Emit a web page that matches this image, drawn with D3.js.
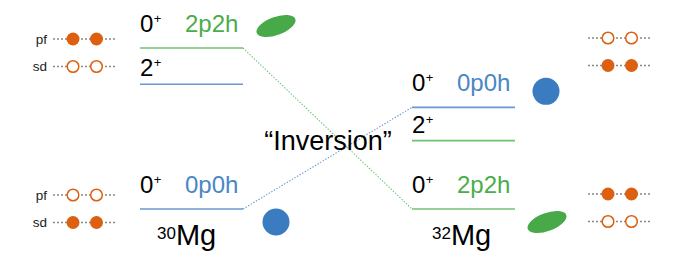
<!DOCTYPE html>
<html>
<head>
<meta charset="utf-8">
<script src="https://cdn.jsdelivr.net/npm/d3@7"></script>
<style>
  body { margin: 0; background: #fff; }
  svg { display: block; font-family: "Liberation Sans", Arial, sans-serif; }
</style>
</head>
<body>
<svg id="chart" width="679" height="260"></svg>
<script>
// Data
const nuclei = ["30Mg", "32Mg"];
const massNumbers = [30, 32];
// levels per nucleus, energy in diagram units (ground state = 0)
const levelNucleus = ["30Mg", "30Mg", "30Mg", "32Mg", "32Mg", "32Mg"];
const levelSpin = ["0", "2", "0", "0", "2", "0"];
const levelConfig = ["0p0h", "0p0h", "2p2h", "2p2h", "2p2h", "0p0h"];
const levelEnergy = [0, 1.24, 1.6, 0, 0.68, 1.01];
const shells = ["pf", "sd"];
// which shell holds the pair in each configuration
const occupied = { "0p0h": "sd", "2p2h": "pf" };
const pairSlots = [0, 1];

// Globals
const width = 679, height = 260;
const svg = d3.select("#chart");
const colors = {
  "0p0h": { text: "#4a86c6", line: "#6a98cf", shape: "#3a7cbf" },
  "2p2h": { text: "#4aad4a", line: "#72c172", shape: "#47a947" }
};
const orange = "#dc6010";

const x = d3.scaleOrdinal().domain(nuclei).range([140, 412]);
const lineLen = 103;
const y = d3.scaleLinear().domain([0, 1.6]).range([209, 48]);

const levels = levelEnergy.map((e, i) => ({
  nucleus: levelNucleus[i], spin: levelSpin[i], config: levelConfig[i], energy: e
}));

// dotted connectors between the two 0+ states of same config
["2p2h", "0p0h"].forEach(cfg => {
  const a = levels.find(d => d.nucleus === nuclei[0] && d.spin === "0" && d.config === cfg);
  const b = levels.find(d => d.nucleus === nuclei[1] && d.spin === "0" && d.config === cfg);
  svg.append("line")
    .attr("x1", x(a.nucleus) + lineLen).attr("y1", y(a.energy))
    .attr("x2", x(b.nucleus)).attr("y2", y(b.energy))
    .attr("stroke", colors[cfg].line)
    .attr("stroke-width", 1.1)
    .attr("stroke-dasharray", "1.4,1.6");
});

// level lines
svg.selectAll("line.level")
  .data(levels)
  .enter()
  .append("line")
  .attr("class", "level")
  .attr("x1", d => x(d.nucleus))
  .attr("x2", d => x(d.nucleus) + lineLen)
  .attr("y1", d => y(d.energy))
  .attr("y2", d => y(d.energy))
  .attr("stroke", d => colors[d.config].line)
  .attr("stroke-width", 1.6);

// spin labels
const spinText = svg.selectAll("text.spin")
  .data(levels)
  .enter()
  .append("text")
  .attr("class", "spin")
  .attr("x", d => x(d.nucleus))
  .attr("y", d => y(d.energy) - (d.spin === "2" ? 8 : 16))
  .attr("font-size", 24)
  .attr("fill", "#000");
spinText.append("tspan").text(d => d.spin);
spinText.append("tspan").attr("font-size", 13).attr("dx", 0.5).attr("dy", -9).text("+");

// configuration labels on 0+ states
const zeroPlus = levels.filter(d => d.spin === "0");
svg.selectAll("text.config")
  .data(zeroPlus)
  .enter()
  .append("text")
  .attr("class", "config")
  .attr("x", d => x(d.nucleus) + 45)
  .attr("y", d => y(d.energy) - 16)
  .attr("font-size", 24)
  .attr("fill", d => colors[d.config].text)
  .text(d => d.config);

// shape markers: sphere for 0p0h, deformed for 2p2h
const shapePos = [
  { dx: 33, dy: 13 }, { dx: 33, dy: -22 }, // 30Mg: ground, excited
  { dx: 32, dy: 13 }, { dx: 31, dy: -16 }  // 32Mg
];
zeroPlus.forEach((d, i) => {
  const cx = x(d.nucleus) + lineLen + shapePos[i].dx;
  const cy = y(d.energy) + shapePos[i].dy;
  if (d.config === "0p0h") {
    svg.append("circle")
      .attr("cx", cx).attr("cy", cy).attr("r", 13.5)
      .attr("fill", colors[d.config].shape);
  } else {
    svg.append("ellipse")
      .attr("cx", 0).attr("cy", 0).attr("rx", 20.5).attr("ry", 9)
      .attr("transform", `translate(${cx},${cy}) rotate(-20)`)
      .attr("fill", colors[d.config].shape);
  }
});

// occupancy diagrams
const diagrams = [
  { config: "2p2h", x0: 53, top: 39, labels: true },
  { config: "0p0h", x0: 53, top: 195, labels: true },
  { config: "0p0h", x0: 588, top: 38, labels: false },
  { config: "2p2h", x0: 588, top: 194, labels: false }
];
diagrams.forEach(g => {
  shells.forEach((sh, si) => {
    const yy = g.top + si * 27.5;
    svg.append("line")
      .attr("x1", g.x0).attr("x2", g.x0 + 62)
      .attr("y1", yy).attr("y2", yy)
      .attr("stroke", "#888")
      .attr("stroke-width", 1.3)
      .attr("stroke-dasharray", "2,2");
    if (g.labels) {
      svg.append("text")
        .attr("x", g.x0 - 6).attr("y", yy + 4.5)
        .attr("text-anchor", "end")
        .attr("font-size", 13.5)
        .attr("fill", "#222")
        .text(sh);
    }
    const filled = occupied[g.config] === sh;
    pairSlots.forEach(k => {
      svg.append("circle")
        .attr("cx", g.x0 + 20 + k * 23.5)
        .attr("cy", yy)
        .attr("r", filled ? 6.5 : 5.8)
        .attr("fill", filled ? orange : "#fff")
        .attr("stroke", orange)
        .attr("stroke-width", filled ? 0 : 1.5);
    });
  });
});

// nucleus names
const massText = svg.selectAll("text.mass")
  .data(nuclei)
  .enter()
  .append("text")
  .attr("class", "mass")
  .attr("x", d => x(d) + (d === "30Mg" ? 17 : 20))
  .attr("y", 245)
  .attr("fill", "#000");
massText.append("tspan").attr("font-size", 17).attr("dy", -6).text((d, i) => massNumbers[i]);
massText.append("tspan").attr("font-size", 29).attr("dy", 6).text("Mg");

// title in the middle
svg.append("text")
  .attr("x", 328).attr("y", 150)
  .attr("text-anchor", "middle")
  .attr("font-size", 27)
  .attr("fill", "#000")
  .text("\u201CInversion\u201D");
</script>
</body>
</html>
